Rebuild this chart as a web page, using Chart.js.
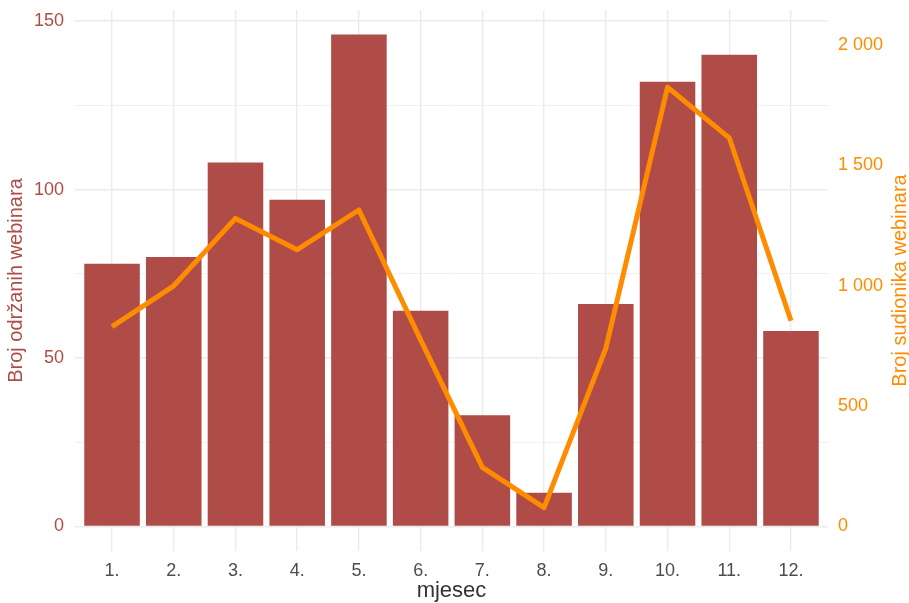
<!DOCTYPE html>
<html>
<head>
<meta charset="utf-8">
<script src="https://cdn.jsdelivr.net/npm/chart.js@4.4.1/dist/chart.umd.min.js"></script>
<style>
  body { margin: 0; background: #fff; }
  #wrap { width: 909px; height: 603px; }
</style>
</head>
<body>
<div id="wrap"><canvas id="myChart"></canvas></div>
<script>
'use strict';

// chart data
const months = ['1.', '2.', '3.', '4.', '5.', '6.', '7.', '8.', '9.', '10.', '11.', '12.'];
const webinars = [78, 80, 108, 97, 146, 64, 33, 10, 66, 132, 140, 58];
const participants = [830, 1000, 1280, 1150, 1315, 775, 245, 78, 740, 1825, 1615, 855];
const leftTicks = [0, 25, 50, 75, 100, 125, 150];
const rightTicks = [0, 500, 1000, 1500, 2000];

const barColor = '#af4c47';
const lineColor = '#ff8c00';
const gridColor = '#ebebeb';
const font = '"Liberation Sans", Arial, sans-serif';
// right axis is the left one times 14 (secondary axis)
const factor = 14;
const yMin = -7.3, yMax = 153.3;

function spaced(v) {
	return String(v).replace(/\B(?=(\d{3})+(?!\d))/g, ' ');
}

// fixed axis sizes, no extra room for edge labels
function fixSize(s, w, h) {
	if (w) s.width = w;
	if (h) s.height = h;
	s.paddingTop = 0;
	s.paddingBottom = 0;
	s.paddingLeft = 0;
	s.paddingRight = 0;
}

// right title reads bottom to top, chart.js would rotate it the other way
const rightTitle = {
	id: 'rightTitle',
	afterDraw(chart) {
		const ctx = chart.ctx;
		const area = chart.chartArea;
		ctx.save();
		ctx.translate(900, (area.top + area.bottom) / 2);
		ctx.rotate(-Math.PI / 2);
		ctx.font = '20px ' + font;
		ctx.fillStyle = lineColor;
		ctx.textAlign = 'center';
		ctx.textBaseline = 'middle';
		ctx.fillText('Broj sudionika webinara', 0, 0);
		ctx.restore();
	}
};

const ctx = document.getElementById('myChart');
const chart = new Chart(ctx, {
	type: 'bar',
	data: {
		datasets: [{
			type: 'line',
			data: participants.map((v, i) => ({ x: i + 1, y: v })),
			yAxisID: 'y1',
			borderColor: lineColor,
			borderWidth: 5,
			borderJoinStyle: 'round',
			pointRadius: 0,
			tension: 0,
			order: 0
		}, {
			type: 'bar',
			data: webinars.map((v, i) => ({ x: i + 1, y: v })),
			yAxisID: 'y',
			backgroundColor: barColor,
			categoryPercentage: 0.9,
			barPercentage: 1.0,
			order: 1
		}]
	},
	options: {
		responsive: true,
		maintainAspectRatio: false,
		animation: false,
		layout: { padding: { top: 10, left: 0, right: 0, bottom: 0 } },
		plugins: { legend: { display: false }, tooltip: { enabled: false } },
		scales: {
			x: {
				type: 'linear',
				min: 0.4,
				max: 12.6,
				offset: false,
				afterBuildTicks: (s) => { s.ticks = months.map((m, i) => ({ value: i + 1 })); },
				afterFit: (s) => fixSize(s, 0, 52),
				grid: { color: gridColor, lineWidth: 1.4, drawTicks: false, offset: false },
				border: { display: false },
				ticks: {
					padding: 9,
					color: '#4d4d4d',
					font: { family: font, size: 18 },
					callback: (v) => months[v - 1]
				},
				title: {
					display: true,
					text: 'mjesec',
					color: '#333333',
					font: { family: font, size: 22, lineHeight: 1.1 },
					padding: { top: 0, bottom: 0 }
				}
			},
			y: {
				position: 'left',
				min: yMin,
				max: yMax,
				afterBuildTicks: (s) => { s.ticks = leftTicks.map((v) => ({ value: v })); },
				afterFit: (s) => fixSize(s, 75, 0),
				grid: {
					color: gridColor,
					lineWidth: (c) => (c.tick && c.tick.value % 50 === 0 ? 1.4 : 0.7),
					drawTicks: false
				},
				border: { display: false },
				ticks: {
					padding: 11,
					color: barColor,
					font: { family: font, size: 18 },
					callback: (v) => (v % 50 === 0 ? String(v) : '')
				},
				title: {
					display: true,
					text: 'Broj održanih webinara',
					color: barColor,
					font: { family: font, size: 20 },
					padding: { top: 4, bottom: 0 }
				}
			},
			y1: {
				position: 'right',
				min: yMin * factor,
				max: yMax * factor,
				afterBuildTicks: (s) => { s.ticks = rightTicks.map((v) => ({ value: v })); },
				afterFit: (s) => fixSize(s, 81, 0),
				grid: { display: false, drawTicks: false },
				border: { display: false },
				ticks: {
					padding: 10,
					color: lineColor,
					font: { family: font, size: 18 },
					callback: (v) => spaced(v)
				}
			}
		}
	},
	plugins: [rightTitle]
});
</script>
</body>
</html>
